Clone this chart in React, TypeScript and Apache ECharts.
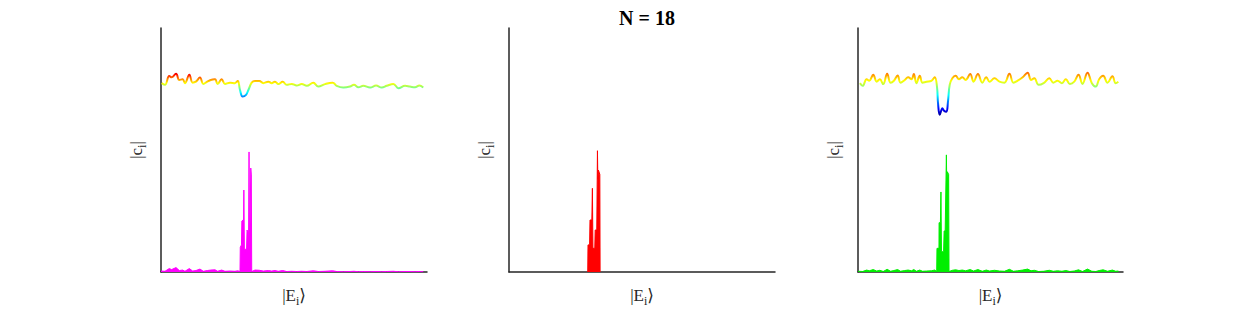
import React, { useEffect, useRef } from "react";
import * as echarts from "echarts";

const titleText = "N = 18";
const xAxisName = "|E{s|i}⟩";
const yAxisName = "|c{s|i}|";

// Panel 1: overlap curve (top) and |c_i| spectrum (bottom, magenta)
const p1Top: number[][] = [
  [0.5, 0.774], [3.0, 0.767], [6.2, 0.803], [8.0, 0.798], [11.3, 0.812], [13.8, 0.787],
  [16.3, 0.79], [18.0, 0.774], [21.3, 0.808], [23.8, 0.776], [26.3, 0.78], [29.3, 0.797],
  [31.8, 0.771], [34.8, 0.78], [37.4, 0.787], [40.6, 0.79], [42.6, 0.77], [45.6, 0.79],
  [48.1, 0.771], [51.9, 0.776], [55.6, 0.774], [57.7, 0.783], [59.4, 0.746], [61.4, 0.719],
  [63.9, 0.726], [65.7, 0.746], [68.2, 0.776], [70.7, 0.783], [73.9, 0.783], [76.9, 0.774],
  [80.7, 0.78], [83.2, 0.774], [85.7, 0.78], [88.2, 0.77], [91.5, 0.78], [94.5, 0.767],
  [98.3, 0.771], [102.0, 0.764], [105.8, 0.77], [109.6, 0.763], [114.5, 0.776], [118.3, 0.76],
  [123.3, 0.77], [129.1, 0.776], [132.1, 0.763], [137.1, 0.756], [142.1, 0.76], [145.1, 0.767],
  [148.4, 0.757], [152.1, 0.763], [157.2, 0.756], [161.7, 0.764], [166.0, 0.756], [169.7, 0.763],
  [174.7, 0.771], [178.5, 0.753], [183.5, 0.763], [187.2, 0.76], [191.0, 0.757], [194.2, 0.764],
  [197.2, 0.756],
];
const p1Bottom: number[][] = [
  [0, 0.004], [3, 0.003], [6.2, 0.014], [8, 0.01], [11.3, 0.018], [13.8, 0.006], [16.3, 0.008],
  [18, 0.003], [21.3, 0.014], [23.8, 0.004], [26.3, 0.006], [29.3, 0.012], [31.8, 0.003],
  [34.8, 0.006], [37.4, 0.008], [40.6, 0.009], [42.6, 0.003], [45.6, 0.008], [48.1, 0.003],
  [51.9, 0.004], [55.6, 0.003], [57.7, 0.005], [59.4, 0.002],
  [59.6, 0.101], [60.5, 0.111], [60.8, 0.209], [61.6, 0.213], [61.9, 0.098], [62.3, 0.336],
  [62.7, 0.09], [63.5, 0.094], [64.3, 0.086], [64.7, 0.172], [65.4, 0.164], [65.8, 0.09],
  [66.2, 0.492], [66.6, 0.09], [67.1, 0.254], [67.5, 0.426], [67.9, 0.398], [68.2, 0.002],
  [70.7, 0.008], [73.9, 0.007], [76.9, 0.004], [80.7, 0.006], [83.2, 0.004], [85.7, 0.006],
  [88.2, 0.003], [91.5, 0.006], [94.5, 0.002], [98.3, 0.003], [102, 0.002], [105.8, 0.003],
  [109.6, 0.002], [114.5, 0.005], [118.3, 0.002], [123.3, 0.003], [129.1, 0.005], [132.1, 0.002],
  [137.1, 0.001], [142.1, 0.002], [145.1, 0.003], [148.4, 0.001], [152.1, 0.002], [157.2, 0.001],
  [161.7, 0.002], [166, 0.001], [169.7, 0.002], [174.7, 0.003], [178.5, 0.001], [183.5, 0.002],
  [187.2, 0.002], [191, 0.001], [194.2, 0.002], [197.2, 0.001],
];

// Panel 2: |c_i| spectrum only (red)
const p2Bottom: number[][] = [
  [59.2, 0], [59.4, 0.111], [60.6, 0.111], [60.9, 0.213], [62.3, 0.213], [62.7, 0.343],
  [63.1, 0.097], [64.5, 0.097], [64.8, 0.172], [66.0, 0.172], [66.5, 0.497], [66.8, 0.38],
  [67.2, 0.418], [68.3, 0.4], [68.5, 0],
];

// Panel 3: overlap curve (top) and |c_i| spectrum (bottom, green)
const p3Top: number[][] = [
  [1.5, 0.774], [3.5, 0.763], [6.5, 0.79], [8.5, 0.784], [11.5, 0.808], [14.1, 0.78],
  [16.5, 0.79], [19.0, 0.77], [22.0, 0.812], [24.6, 0.776], [27.1, 0.784], [29.9, 0.805],
  [32.1, 0.776], [35.3, 0.787], [37.8, 0.798], [40.4, 0.79], [42.1, 0.811], [44.1, 0.774],
  [46.6, 0.804], [48.7, 0.776], [51.7, 0.78], [55.4, 0.783], [57.9, 0.798], [59.6, 0.76],
  [60.4, 0.692], [61.7, 0.644], [63.7, 0.671], [64.9, 0.661], [66.7, 0.657], [67.9, 0.698],
  [69.2, 0.767], [71.2, 0.794], [73.7, 0.804], [76.2, 0.79], [78.7, 0.798], [81.2, 0.787],
  [84.7, 0.811], [87.2, 0.78], [90.5, 0.811], [93.8, 0.776], [96.8, 0.798], [99.3, 0.78],
  [103.0, 0.794], [106.8, 0.78], [110.5, 0.776], [114.3, 0.812], [117.3, 0.776], [120.5, 0.784],
  [124.3, 0.798], [128.0, 0.817], [130.6, 0.787], [133.1, 0.794], [136.3, 0.767], [140.1, 0.774],
  [144.4, 0.794], [147.4, 0.776], [150.6, 0.784], [153.9, 0.774], [156.9, 0.79], [159.9, 0.771],
  [163.2, 0.78], [166.4, 0.808], [169.4, 0.771], [173.2, 0.817], [176.5, 0.774], [179.5, 0.76],
  [182.0, 0.79], [185.0, 0.804], [188.3, 0.776], [192.0, 0.802], [194.5, 0.774], [196.5, 0.78],
];
const p3Bottom: number[][] = [
  [0, 0.003], [3.5, 0.002], [6.5, 0.008], [8.5, 0.005], [11.5, 0.01], [14.1, 0.004], [16.5, 0.007],
  [19, 0.002], [22, 0.011], [24.6, 0.003], [27.1, 0.006], [29.9, 0.01], [32.1, 0.003], [35.3, 0.006],
  [37.8, 0.008], [40.4, 0.005], [42.1, 0.01], [44.1, 0.003], [46.6, 0.008], [48.7, 0.003],
  [51.7, 0.004], [55.4, 0.005], [57.9, 0.008], [59.4, 0.002],
  [59.6, 0.097], [61.1, 0.097], [61.2, 0.202], [62.2, 0.202], [62.6, 0.328], [63.0, 0.083],
  [64.6, 0.083], [65.0, 0.168], [65.8, 0.168], [66.7, 0.48], [67.0, 0.36], [67.4, 0.411],
  [68.4, 0.4], [68.7, 0.002],
  [71.2, 0.007], [73.7, 0.009], [76.2, 0.006], [78.7, 0.008], [81.2, 0.005], [84.7, 0.01],
  [87.2, 0.004], [90.5, 0.01], [93.8, 0.003], [96.8, 0.008], [99.3, 0.004], [103, 0.007],
  [106.8, 0.004], [110.5, 0.003], [114.3, 0.011], [117.3, 0.003], [120.5, 0.005], [124.3, 0.008],
  [128, 0.012], [130.6, 0.005], [133.1, 0.007], [136.3, 0.002], [140.1, 0.003], [144.4, 0.007],
  [147.4, 0.003], [150.6, 0.005], [153.9, 0.003], [156.9, 0.006], [159.9, 0.002], [163.2, 0.004],
  [166.4, 0.009], [169.4, 0.002], [173.2, 0.012], [176.5, 0.003], [179.5, 0.002], [182, 0.006],
  [185, 0.009], [188.3, 0.003], [192, 0.008], [194.5, 0.003], [196.5, 0.004],
];

const jet = ["#00008f", "#0000ff", "#0080ff", "#00ffff", "#80ff80", "#ffff00", "#ff8000", "#ff0000", "#800000"];
const spikeColors = ["#ff00ff", "#ff0000", "#00ee00"];

const axisColor = "#262626";
const serif = "'Liberation Serif', 'DejaVu Serif', serif";

export default function App() {
  const ref = useRef<HTMLDivElement>(null);
  useEffect(() => {
    if (!ref.current) return;
    const chart = echarts.init(ref.current, undefined, { renderer: "svg" });
    const grids = [
      { left: 161, right: 813, top: 28, bottom: 38, outerBoundsMode: "none", containLabel: false },
      { left: 509, right: 465, top: 28, bottom: 38, outerBoundsMode: "none", containLabel: false },
      { left: 858, right: 117, top: 28, bottom: 38, outerBoundsMode: "none", containLabel: false },
    ];
    const nameStyle = {
      fontFamily: serif,
      fontSize: 17,
      color: axisColor,
      rich: { s: { fontFamily: serif, fontSize: 12, color: axisColor, padding: [11, 0, 0, 0] } },
    };
    const xAxes = grids.map((_, i) => ({
      type: "value",
      gridIndex: i,
      min: 0,
      max: 200,
      axisLine: { show: true, lineStyle: { color: axisColor, width: 1.5 } },
      axisTick: { show: false },
      axisLabel: { show: false },
      splitLine: { show: false },
      name: xAxisName,
      nameLocation: "middle",
      nameGap: 12,
      nameTextStyle: nameStyle,
    }));
    const yAxes = grids.map((_, i) => ({
      type: "value",
      gridIndex: i,
      min: 0,
      max: 1,
      axisLine: { show: true, lineStyle: { color: axisColor, width: 1.5 } },
      axisTick: { show: false },
      axisLabel: { show: false },
      splitLine: { show: false },
      name: yAxisName,
      nameLocation: "middle",
      nameGap: 13,
      nameTextStyle: nameStyle,
    }));
    const topLine = (data: number[][], idx: number) => ({
      type: "line",
      xAxisIndex: idx,
      yAxisIndex: idx,
      data,
      smooth: 0.4,
      showSymbol: false,
      lineStyle: { width: 2 },
      z: 3,
    });
    const spikes = (data: number[][], idx: number, color: string) => ({
      type: "line",
      xAxisIndex: idx,
      yAxisIndex: idx,
      data,
      showSymbol: false,
      lineStyle: { width: 1, color },
      itemStyle: { color },
      areaStyle: { color, opacity: 1 },
      z: 2,
    });
    chart.setOption({
      animation: false,
      backgroundColor: "#ffffff",
      title: {
        text: titleText,
        left: 642,
        top: 3,
        textAlign: "center",
        textStyle: { fontFamily: serif, fontSize: 20, fontWeight: "bold", color: "#000000" },
      },
      grid: grids,
      xAxis: xAxes,
      yAxis: yAxes,
      visualMap: [
        { type: "continuous", show: false, seriesIndex: 0, dimension: 1, min: 0.68, max: 0.83, inRange: { color: jet } },
        { type: "continuous", show: false, seriesIndex: 3, dimension: 1, min: 0.64, max: 0.87, inRange: { color: jet } },
      ],
      series: [
        topLine(p1Top, 0),
        spikes(p1Bottom, 0, spikeColors[0]),
        spikes(p2Bottom, 1, spikeColors[1]),
        topLine(p3Top, 2),
        spikes(p3Bottom, 2, spikeColors[2]),
      ],
    });
    return () => chart.dispose();
  }, []);
  return (
    <div
      ref={ref}
      style={{ position: "fixed", left: 0, top: 0, width: 1240, height: 310, background: "#fff" }}
    />
  );
}
